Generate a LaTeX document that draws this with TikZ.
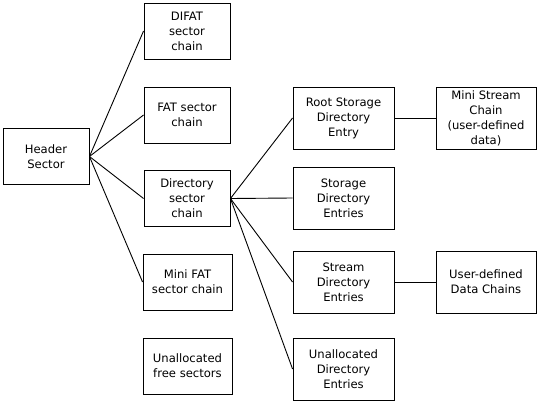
\documentclass[tikz,border=0pt]{standalone}
\usepackage{fontspec}
\setmainfont{DejaVu Sans}

\begin{document}
\begin{tikzpicture}[x=1pt,y=-1pt,
    box/.style={draw,line width=0.9pt,align=center,inner sep=0pt,
      minimum width=86pt,minimum height=56pt,
      font=\fontsize{11.6}{15}\selectfont},
    wide/.style={box,minimum width=101pt,minimum height=62pt}]
    \useasboundingbox (0,0) rectangle (537,404);
    \node[box] (Head) at (46,156.5) {Header\\Sector};
    \node[box] (Difat) at (187,31) {DIFAT\\sector\\chain};
    \node[box] (Fat) at (187,115) {FAT sector\\chain};
    \node[box] (Dir) at (187,198.5) {Directory\\sector\\chain};
    \node[box,minimum width=89pt] (MiniFat) at (187.5,282) {Mini FAT\\sector chain};
    \node[box,minimum width=89pt] (Free) at (187.5,366) {Unallocated\\free sectors};
    \draw[line width=0.9pt] (Head.east) -- (Difat.west);
    \draw[line width=0.9pt] (Head.east) -- (Fat.west);
    \draw[line width=0.9pt] (Head.east) -- (Dir.west);
    \draw[line width=0.9pt] (Head.east) -- (MiniFat.west);
   \node[wide] (Root) at (343.5,118) {Root Storage\\Directory\\Entry};
    \node[wide] (Storage) at (343.5,198) {Storage\\Directory\\Entries};
    \node[wide] (Stream) at (343.5,282) {Stream\\Directory\\Entries};
    \node[wide] (FreeDir) at (343.5,369) {Unallocated\\Directory\\Entries};
    \draw[line width=0.9pt] (Dir.east) -- (Root.west);
    \draw[line width=0.9pt] (Dir.east) -- (Storage.west);
    \draw[line width=0.9pt] (Dir.east) -- (Stream.west);
    \draw[line width=0.9pt] (Dir.east) -- (FreeDir.west);
   \node[wide,minimum width=100pt] (MiniStream) at (486,118) {Mini Stream\\Chain\\(user-defined\\data)};
    \node[wide,minimum width=100pt] (UserData) at (486,282) {User-defined\\Data Chains};
    \draw[line width=0.9pt] (Root) -- (MiniStream);
    \draw[line width=0.9pt] (Stream) -- (UserData);
\end{tikzpicture}
\end{document}
